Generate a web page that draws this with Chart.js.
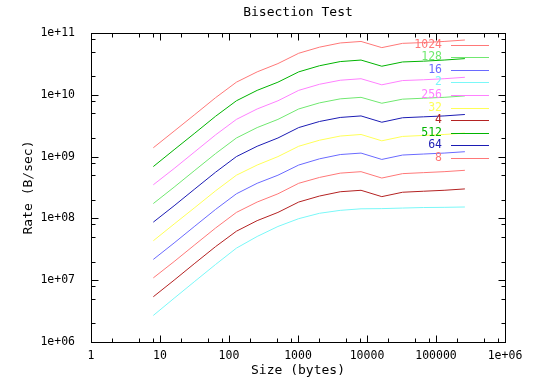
<!DOCTYPE html>
<html>
<head>
<meta charset="utf-8">
<script src="https://cdn.jsdelivr.net/npm/chart.js@4"></script>
<style>
html, body { margin: 0; padding: 0; background: #ffffff; }
</style>
</head>
<body>
<canvas id="chart" width="539" height="378"></canvas>
<script>
// message sizes (bytes) on the x axis
var sizes = [8, 16, 32, 64, 128, 256, 512, 1024, 2048, 4096, 8192, 16384, 32768, 65536, 131072, 262144];

// rate (B/sec) per series
var rate1024 = [1.39e9, 2.58e9, 4.8e9, 9.0e9, 1.6e10, 2.35e10, 3.2e10, 4.7e10, 5.9e10, 6.9e10, 7.3e10, 5.8e10, 6.8e10, 7.0e10, 7.3e10, 7.7e10];
var rate512  = [6.9e8, 1.29e9, 2.4e9, 4.5e9, 8.0e9, 1.18e10, 1.6e10, 2.35e10, 2.95e10, 3.45e10, 3.65e10, 2.9e10, 3.4e10, 3.5e10, 3.65e10, 3.85e10];
var rate256  = [3.5e8, 6.4e8, 1.2e9, 2.25e9, 4.0e9, 5.9e9, 8.0e9, 1.18e10, 1.48e10, 1.72e10, 1.82e10, 1.45e10, 1.7e10, 1.75e10, 1.82e10, 1.92e10];
var rate128  = [1.74e8, 3.2e8, 6.0e8, 1.12e9, 2.0e9, 2.95e9, 4.0e9, 5.9e9, 7.4e9, 8.6e9, 9.1e9, 7.3e9, 8.5e9, 8.8e9, 9.1e9, 9.6e9];
var rate64   = [8.7e7, 1.6e8, 3.0e8, 5.6e8, 1.0e9, 1.47e9, 2.0e9, 2.95e9, 3.7e9, 4.3e9, 4.55e9, 3.6e9, 4.25e9, 4.4e9, 4.55e9, 4.8e9];
var rate32   = [4.35e7, 8.1e7, 1.5e8, 2.8e8, 5.0e8, 7.3e8, 1.0e9, 1.47e9, 1.84e9, 2.15e9, 2.28e9, 1.8e9, 2.12e9, 2.2e9, 2.28e9, 2.4e9];
var rate16   = [2.17e7, 4.0e7, 7.5e7, 1.4e8, 2.5e8, 3.7e8, 5.0e8, 7.3e8, 9.2e8, 1.08e9, 1.14e9, 9.0e8, 1.06e9, 1.1e9, 1.14e9, 1.2e9];
var rate8    = [1.09e7, 2.0e7, 3.75e7, 7.0e7, 1.25e8, 1.84e8, 2.5e8, 3.7e8, 4.6e8, 5.4e8, 5.7e8, 4.5e8, 5.3e8, 5.5e8, 5.7e8, 6.0e8];
var rate4    = [5.4e6, 1.0e7, 1.88e7, 3.5e7, 6.2e7, 9.2e7, 1.25e8, 1.84e8, 2.3e8, 2.7e8, 2.85e8, 2.25e8, 2.65e8, 2.75e8, 2.85e8, 3.0e8];
var rate2    = [2.69e6, 5.1e6, 9.6e6, 1.8e7, 3.3e7, 5.1e7, 7.4e7, 9.9e7, 1.21e8, 1.35e8, 1.43e8, 1.44e8, 1.47e8, 1.5e8, 1.51e8, 1.53e8];

// tick values and labels (gnuplot style)
var xTickValues = [1, 10, 100, 1000, 10000, 100000, 1000000];
var xTickLabels = ["1", "10", "100", "1000", "10000", "100000", "1e+06"];
var yTickValues = [1e6, 1e7, 1e8, 1e9, 1e10, 1e11];
var yTickLabels = ["1e+06", "1e+07", "1e+08", "1e+09", "1e+10", "1e+11"];

// legend order as in the key (string sorted)
var seriesNames  = ["1024", "128", "16", "2", "256", "32", "4", "512", "64", "8"];
var seriesRates  = [rate1024, rate128, rate16, rate2, rate256, rate32, rate4, rate512, rate64, rate8];
var seriesColors = ["#ff7878", "#70e870", "#6a6aff", "#7af8f8", "#ff80ff", "#ffff58", "#b42222", "#00b400", "#1c1cb4", "#ff7878"];

var chartTitle = "Bisection Test";
var monoFont = "'DejaVu Sans Mono', monospace";

var allDatasets = [];
for (var i = 0; i < seriesNames.length; i++) {
    var pts = [];
    for (var k = 0; k < sizes.length; k++) {
        pts.push({x: sizes[k], y: seriesRates[i][k]});
    }
    allDatasets.push({
        label: seriesNames[i],
        data: pts,
        borderColor: seriesColors[i],
        backgroundColor: seriesColors[i],
        borderWidth: 1,
        pointRadius: 0,
        tension: 0,
        fill: false
    });
}

// title over the plot, border, inward tick marks on all 4 sides, key inside the plot
const framePlugin = {
    id: "frame",
    afterDraw: (chart) => {
        var ctx = chart.ctx;
        var a = chart.chartArea;
        var xs = chart.scales.x, ys = chart.scales.y;
        var L = Math.round(a.left) + 0.5, R = Math.round(a.right) + 0.5;
        var T = Math.round(a.top) + 0.5, B = Math.round(a.bottom) + 0.5;
        ctx.save();

        ctx.fillStyle = "#000";
        ctx.font = "13px " + monoFont;
        ctx.textAlign = "center";
        ctx.textBaseline = "middle";
        ctx.fillText(chartTitle, (a.left + a.right) / 2, 13);

        ctx.strokeStyle = "#000";
        ctx.lineWidth = 1;
        ctx.strokeRect(L, T, R - L, B - T);

        ctx.beginPath();
        var minors = [2, 5, 8];
        // x ticks
        for (var d = 0; d < xTickValues.length; d++) {
            var v = xTickValues[d];
            var px = Math.round(xs.getPixelForValue(v)) + 0.5;
            ctx.moveTo(px, B); ctx.lineTo(px, B - 7);
            ctx.moveTo(px, T); ctx.lineTo(px, T + 7);
            if (d < xTickValues.length - 1) {
                minors.forEach(m => {
                    var mx = Math.round(xs.getPixelForValue(v * m)) + 0.5;
                    ctx.moveTo(mx, B); ctx.lineTo(mx, B - 4);
                    ctx.moveTo(mx, T); ctx.lineTo(mx, T + 4);
                });
            }
        }
        // y ticks
        for (var e = 0; e < yTickValues.length; e++) {
            var w = yTickValues[e];
            var py = Math.round(ys.getPixelForValue(w)) + 0.5;
            ctx.moveTo(L, py); ctx.lineTo(L + 7, py);
            ctx.moveTo(R, py); ctx.lineTo(R - 7, py);
            if (e < yTickValues.length - 1) {
                minors.forEach(m => {
                    var my = Math.round(ys.getPixelForValue(w * m)) + 0.5;
                    ctx.moveTo(L, my); ctx.lineTo(L + 4, my);
                    ctx.moveTo(R, my); ctx.lineTo(R - 4, my);
                });
            }
        }
        ctx.stroke();

        // key
        ctx.font = "11.5px " + monoFont;
        ctx.textAlign = "right";
        chart.data.datasets.forEach((ds, i) => {
            var ky = Math.round(a.top + 11.5 + i * 12.6) + 0.5;
            ctx.fillStyle = ds.borderColor;
            ctx.fillText(ds.label, a.right - 63, ky);
            ctx.strokeStyle = ds.borderColor;
            ctx.beginPath();
            ctx.moveTo(a.right - 54, ky);
            ctx.lineTo(a.right - 16, ky);
            ctx.stroke();
        });
        ctx.restore();
    }
};

var rateChart = new Chart("chart", {
    type: "line",
    data: { datasets: allDatasets },
    plugins: [framePlugin],
    options: {
        responsive: false,
        animation: false,
        layout: { padding: { left: 0, right: 34, top: 33, bottom: 0 } },
        plugins: {
            legend: { display: false },
            tooltip: { enabled: false },
            title: { display: false }
        },
        scales: {
            x: {
                type: "logarithmic",
                min: 1,
                max: 1000000,
                grid: { display: false, drawTicks: false },
                border: { display: false },
                afterBuildTicks: (scale) => {
                    scale.ticks = xTickValues.map(v => ({ value: v }));
                },
                afterFit: (scale) => { scale.height = 36; },
                ticks: {
                    autoSkip: false,
                    maxRotation: 0,
                    color: "#000",
                    padding: 7,
                    font: { size: 11.5, family: monoFont },
                    callback: (value, index) => xTickLabels[index]
                },
                title: {
                    display: true,
                    text: "Size (bytes)",
                    color: "#000",
                    font: { size: 13, family: monoFont },
                    padding: { top: 0, bottom: 0 }
                }
            },
            y: {
                type: "logarithmic",
                min: 1e6,
                max: 1e11,
                grid: { display: false, drawTicks: false },
                border: { display: false },
                afterBuildTicks: (scale) => {
                    scale.ticks = yTickValues.map(v => ({ value: v }));
                },
                afterFit: (scale) => { scale.width = 91; },
                ticks: {
                    autoSkip: false,
                    color: "#000",
                    padding: 16,
                    font: { size: 11.5, family: monoFont },
                    callback: (value, index) => yTickLabels[index]
                },
                title: {
                    display: true,
                    text: "Rate (B/sec)",
                    color: "#000",
                    font: { size: 13, family: monoFont },
                    padding: { top: 21, bottom: 0 }
                }
            }
        }
    }
});
</script>
</body>
</html>
